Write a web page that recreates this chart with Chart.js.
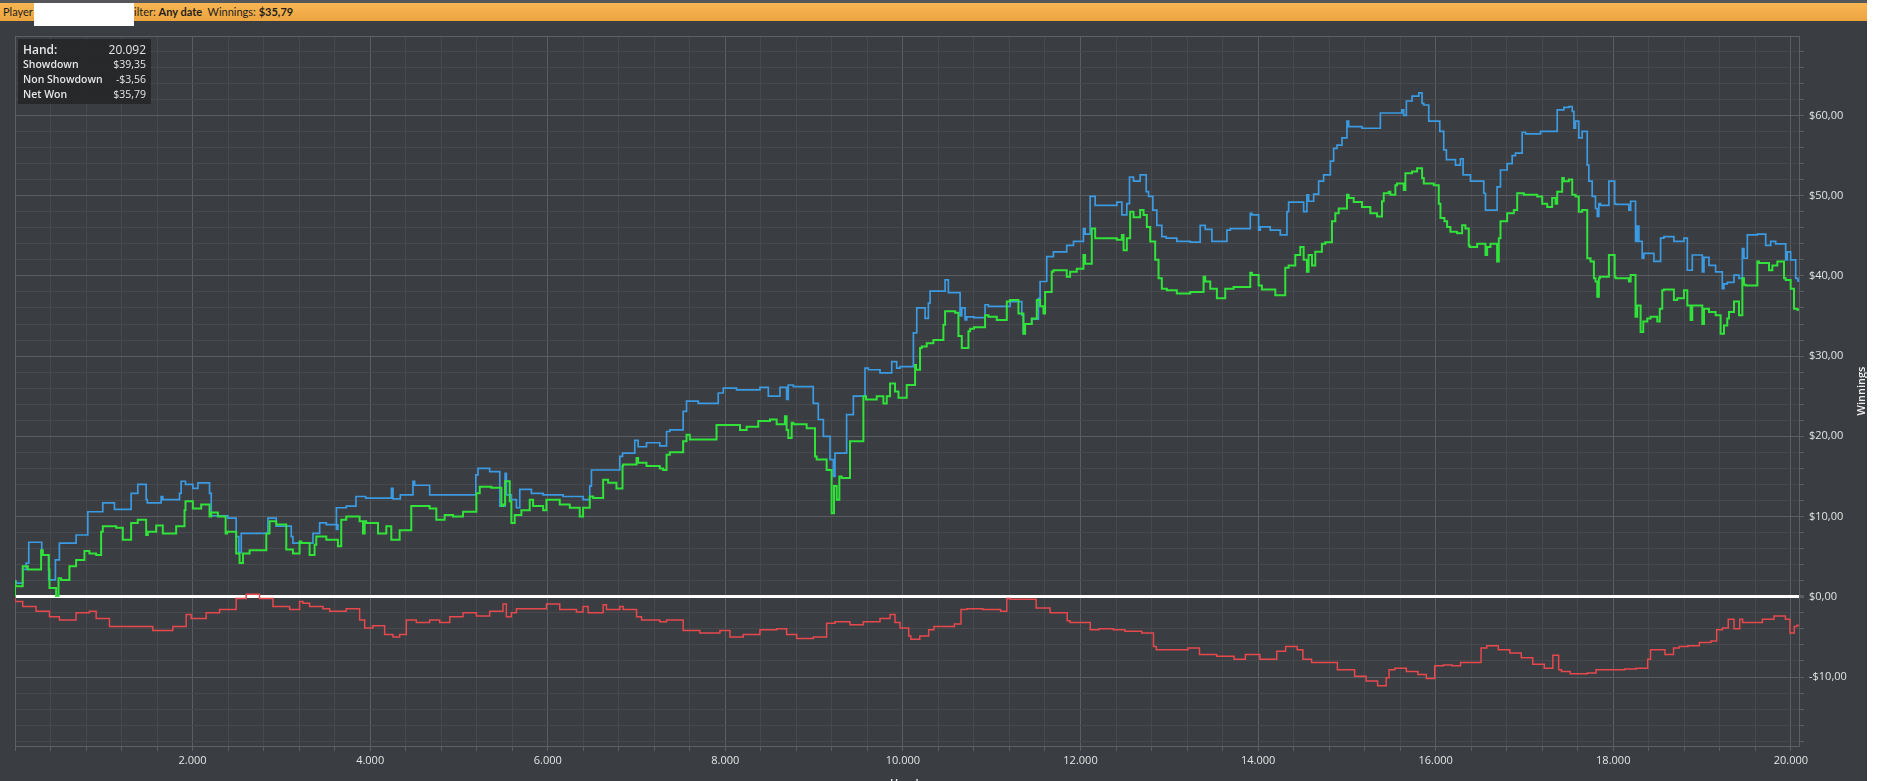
<!DOCTYPE html>
<html>
<head>
<meta charset="utf-8">
<title>Winnings</title>
<script src="https://cdn.jsdelivr.net/npm/chart.js@4.4.1/dist/chart.umd.min.js"></script>
<style>
  html, body { margin: 0; padding: 0; background: #ffffff; overflow: hidden; }
  #page { position: relative; width: 1867px; height: 781px; background: #3a3d41; font-family: "Open Sans", "Noto Sans", sans-serif; }
  #strip { position: absolute; left: 0; top: 0; width: 1867px; height: 3px; background: #55575a; }
  #bar { position: absolute; left: 0; top: 3px; width: 1867px; height: 18px; background: linear-gradient(#f7b653, #eca43f); color: #1e1e1e; font-family: Lato, "Open Sans", sans-serif; font-size: 11px; line-height: 18px; }
  #bar span { position: absolute; top: 0; white-space: nowrap; }
  #mask { position: absolute; left: 34px; top: 3px; width: 100px; height: 23px; background: #ffffff; }
  #stats { position: absolute; left: 18px; top: 39px; width: 133px; height: 65px; background: rgba(36, 37, 39, 0.88); color: #e6e6e6; font-size: 10.5px; z-index: 2; }
  #stats div { position: absolute; left: 5px; right: 5px; height: 15px; line-height: 15px; }
  #stats b { font-weight: 600; }
  #stats .v { position: absolute; right: 0; top: 0; }
  #chartBox { position: absolute; left: 0; top: 21px; width: 1867px; height: 760px; }
</style>
</head>
<body>
<div id="page">
  <div id="strip"></div>
  <div id="bar">
    <span style="left:3px">Player</span>
    <span style="left:134px">ilter: <b style="font-weight:700">Any date</b>&nbsp; Winnings: <b style="font-weight:700">$35,79</b></span>
  </div>
  <div id="mask"></div>
  <div id="stats">
    <div style="top:3px;font-size:12px"><b>Hand:</b><span class="v">20.092</span></div>
    <div style="top:18px"><b>Showdown</b><span class="v">$39,35</span></div>
    <div style="top:33px"><b>Non Showdown</b><span class="v">-$3,56</span></div>
    <div style="top:48px"><b>Net Won</b><span class="v">$35,79</span></div>
  </div>
  <div id="chartBox"><canvas id="winningsChart" width="1867" height="760"></canvas></div>
</div>
<script>
// Hands played (x) and cumulative winnings (y)
const showdownHands = [0, 10, 87, 125, 155, 301, 380, 455, 500, 688, 820, 989, 1120, 1308, 1383, 1477, 1490, 1646, 1665, 1853, 1871, 1920, 2003, 2060, 2191, 2210, 2398, 2491, 2521, 2548, 2848, 2942, 3111, 3130, 3356, 3431, 3506, 3637,
  3620, 3731, 3840, 3949, 4240, 4257, 4340, 4482, 4501, 4670, 4820, 5190, 5215, 5346, 5460, 5489, 5520, 5534, 5590, 5647, 5685, 5816, 5948, 6173, 6398, 6473, 6492, 6661, 6812, 6842, 6980, 7018, 7112, 7262,
  7338, 7375, 7525, 7563, 7695, 7920, 7977, 8127, 8390, 8484, 8615, 8690, 8709, 8766, 8990, 9047, 9104, 9179, 9216, 9235, 9291, 9366, 9442, 9573, 9611, 9742, 9874, 9930, 9968, 10118, 10156, 10250, 10287, 10306, 10475, 10512, 10644, 10663, 10700, 10719, 10800,
  10925, 10963, 11207, 11226, 11339, 11357, 11376, 11451, 11526, 11545, 11620, 11695, 11845, 11921, 12033, 12052, 12109, 12165, 12409, 12466, 12522, 12552, 12597, 12672, 12740, 12766, 12815, 12860, 12916, 12965, 13085, 13236, 13348, 13405, 13480, 13649, 13687, 13912, 13931, 14006, 14025, 14137, 14250, 14325, 14344, 14513, 14550, 14569, 14626, 14682, 14738, 14814, 14851, 14889, 14945, 15001, 15020, 15170, 15377, 15407,
  15620, 15640, 15670, 15734, 15810, 15847, 15866, 15922, 16046, 16091, 16121, 16223, 16279, 16309, 16392, 16542, 16561, 16692, 16730, 16805, 16862, 16899, 16974, 17012, 17181, 17369, 17444, 17500, 17538, 17557, 17575, 17612, 17650, 17707, 17725, 17763, 17800, 17820, 17838, 17857, 17951, 17970, 18016, 18026, 18176, 18196, 18251, 18270, 18289, 18326, 18345, 18458, 18533, 18571, 18683, 18796, 18834, 18890, 18946, 19003, 19022, 19078, 19153, 19228, 19247, 19284, 19360, 19416, 19454, 19472, 19510, 19623, 19717, 19773, 19829, 19942, 19961, 19998, 20055, 20081, 20092];
const showdownWon = [0, 2.0, 1.7, 3.4, 4.2, 6.8, 5.2, 2.1, 4.6, 6.7, 7.7, 10.6, 11.7, 10.9, 12.9, 14.0, 12.1, 11.7, 12.5, 12.1, 12.9, 14.4, 14.0, 13.5, 14.2, 12.9, 10.1, 9.8, 7.5, 5.5, 7.9, 9.8, 8.8, 7.5, 6.7, 7.9, 9.2, 9.0,
  8.4, 11.1, 11.3, 12.5, 12.3, 13.5, 12.2, 12.7, 14.4, 13.9, 12.7, 12.7, 15.2, 16.0, 15.6, 11.3, 11.3, 15.4, 12.7, 12.1, 11.1, 13.4, 12.9, 12.7, 12.5, 12.1, 13.8, 15.8, 15.8, 17.5, 17.9, 19.5, 18.7, 19.2,
  18.8, 20.6, 20.8, 23.1, 24.4, 24.1, 25.4, 26.0, 25.8, 26.1, 25.0, 26.1, 24.6, 26.4, 26.2, 24.1, 22.1, 20.0, 17.1, 15.0, 17.9, 17.9, 22.7, 25.0, 28.5, 28.3, 27.9, 29.3, 28.5, 28.7, 32.9, 36.0, 34.7, 36.6, 38.1, 39.5, 37.9, 35.0, 36.0, 34.5, 34.9,
  34.8, 36.4, 36.2, 36.8, 36.8, 35.1, 32.8, 34.0, 34.6, 37.2, 39.3, 42.4, 43.0, 43.8, 44.3, 45.9, 45.2, 49.9, 48.8, 49.2, 47.6, 49.0, 52.3, 51.8, 52.6, 50.5, 49.9, 48.2, 46.3, 44.9, 44.7, 44.3, 44.2, 46.3, 45.8, 44.3, 45.7, 45.9, 47.8, 47.6, 45.7, 46.1, 45.7, 45.1, 48.0, 49.2, 48.0, 50.1, 49.3, 50.2, 51.8, 52.6, 54.3, 55.9, 56.3, 57.2, 59.3, 58.6, 58.4, 60.3,
  60.3, 60.7, 60.0, 61.8, 62.4, 62.8, 61.5, 61.3, 59.3, 58.0, 55.7, 54.5, 53.8, 54.6, 52.6, 51.8, 50.3, 48.2, 51.1, 53.2, 54.0, 55.0, 55.3, 57.9, 57.7, 58.0, 60.7, 61.0, 61.1, 60.5, 58.4, 59.3, 57.2, 58.0, 53.8, 51.8, 49.9, 48.4, 47.4, 49.0, 48.8, 51.8, 51.8, 49.0, 48.9, 48.2, 49.3, 44.3, 46.2, 44.3, 42.2, 42.8, 41.8, 44.7, 44.9, 44.3, 44.7, 40.7, 42.6, 42.6, 40.5, 42.3, 41.3, 40.5, 38.4, 39.0, 39.2, 40.1, 39.7, 43.4, 42.2, 45.1, 45.2, 43.8, 44.3, 44.0, 42.0, 43.0, 42.0, 39.7, 39.35];

const netHands = [0, 5, 87, 144, 294, 313, 380, 388, 463, 490, 519, 613, 688, 782, 838, 914, 970, 989, 1139, 1214, 1308, 1383, 1477, 1496, 1590, 1665, 1815, 1909, 1920, 2003, 2097, 2191, 2210, 2285, 2372, 2387, 2491, 2529, 2567, 2642, 2830, 2867, 2942, 3055, 3130, 3205, 3224, 3318, 3374, 3393, 3506, 3637,
  3674, 3731, 3881, 3919, 3938, 3956, 4088, 4182, 4238, 4332, 4463, 4512, 4670, 4745, 4839, 4933, 5046, 5196, 5234, 5365, 5478, 5496, 5520, 5572, 5590, 5628, 5703, 5797, 5835, 5948, 5985, 6135, 6248, 6360, 6398, 6473, 6511, 6624, 6680, 6774, 6842, 6849, 7000, 7018, 7112, 7262,
  7300, 7338, 7375, 7525, 7563, 7600, 7901, 7977, 8165, 8240, 8371, 8503, 8578, 8671, 8690, 8709, 8747, 8766, 8916, 9010, 9029, 9141, 9197, 9224, 9254, 9284, 9310, 9404, 9423, 9555, 9584, 9705, 9780, 9818, 9855, 9911, 9950, 10043, 10081, 10137, 10148, 10193, 10212, 10268, 10343, 10456, 10475, 10588, 10625, 10663, 10738, 10757,
  10800, 10925, 10963, 11057, 11170, 11207, 11301, 11320, 11357, 11376, 11451, 11508, 11545, 11583, 11601, 11628, 11676, 11695, 11845, 11883, 11958, 12033, 12052, 12127, 12165, 12409, 12466, 12485, 12522, 12559, 12597, 12672, 12710, 12747, 12785, 12841, 12879, 12916, 12973, 13085, 13236, 13386, 13405, 13461, 13536, 13630, 13724, 13912, 13931, 14006, 14043, 14194, 14306, 14344, 14419, 14475, 14513, 14550, 14569, 14607, 14644, 14719, 14757, 14832, 14870, 14908, 15001, 15020, 15077, 15170, 15264, 15340, 15396, 15415, 15471,
  15490, 15546, 15565, 15640, 15659, 15734, 15791, 15847, 15866, 15978, 16035, 16054, 16099, 16129, 16166, 16241, 16298, 16335, 16373, 16384, 16467, 16561, 16580, 16617, 16692, 16711, 16730, 16805, 16880, 16918, 16993, 17143, 17200, 17256, 17312, 17350, 17369, 17425, 17444, 17500, 17538, 17575, 17612, 17650, 17707, 17744, 17782, 17800, 17820, 17838, 17850, 17951, 17970, 18016, 18026, 18176, 18196, 18251, 18270, 18308, 18338, 18383, 18420, 18496, 18524, 18552, 18571, 18683, 18721, 18796, 18834, 18871, 18890, 18946, 19003, 19022, 19078, 19153, 19209, 19247, 19284, 19303, 19360, 19416, 19454, 19472, 19491, 19623, 19641, 19754, 19792, 19848, 19923, 19942, 19998, 20036, 20073, 20092];
const netWon = [0, 1.9, 1.3, 3.8, 3.4, 5.8, 5.2, 3.4, 1.1, 0.1, 2.3, 2.1, 3.8, 4.6, 5.7, 5.4, 5.2, 8.1, 8.8, 8.6, 7.1, 9.2, 9.6, 7.7, 8.1, 8.9, 7.9, 8.8, 10.8, 11.9, 11.0, 11.5, 10.0, 10.5, 10.0, 7.9, 8.1, 5.4, 4.2, 5.4, 5.8, 7.9, 9.4, 9.0, 5.9, 5.4, 6.9, 6.7, 5.2, 6.5, 7.5, 7.1,
  6.3, 9.6, 10.0, 9.4, 7.9, 9.4, 9.2, 7.9, 8.8, 7.1, 8.3, 11.3, 11.3, 11.0, 9.6, 10.2, 10.0, 10.6, 12.9, 13.7, 13.6, 11.3, 11.5, 14.4, 11.9, 9.2, 10.2, 10.8, 12.1, 11.3, 10.8, 12.1, 11.5, 11.1, 10.0, 11.1, 12.5, 12.3, 14.6, 14.2, 13.5, 16.3, 16.5, 17.3, 16.7, 16.3,
  16.0, 15.8, 17.7, 18.0, 19.4, 20.2, 19.6, 21.4, 21.4, 20.8, 21.2, 21.9, 22.1, 21.5, 22.5, 20.8, 19.8, 21.7, 21.5, 21.0, 17.5, 17.1, 15.8, 10.4, 13.8, 12.1, 15.0, 14.8, 19.4, 19.4, 25.0, 24.6, 25.0, 24.1, 25.0, 26.6, 25.6, 24.8, 26.4, 26.4, 28.9, 28.3, 31.0, 31.2, 31.6, 32.0, 33.9, 35.6, 35.4, 32.5, 31.0, 33.1,
  33.4, 33.6, 35.1, 34.9, 34.5, 36.8, 37.0, 35.3, 35.3, 32.8, 34.0, 34.7, 37.0, 36.2, 35.3, 38.0, 38.0, 40.5, 40.7, 39.9, 40.5, 40.9, 42.6, 41.5, 45.9, 44.7, 44.5, 45.1, 43.2, 44.7, 48.0, 47.3, 48.2, 47.6, 46.1, 44.3, 42.0, 39.7, 38.4, 38.2, 37.8, 38.0, 39.9, 39.3, 38.4, 37.2, 38.4, 38.6, 40.4, 40.1, 38.8, 38.3, 37.6, 41.0, 41.3, 42.6, 43.6, 42.0, 40.5, 42.6, 41.3, 43.0, 44.0, 44.2, 46.8, 47.8, 48.4, 50.1, 49.7, 49.2, 48.6, 47.8, 47.4, 49.3, 50.3,
  50.5, 50.1, 51.3, 51.5, 50.7, 52.8, 53.0, 53.4, 52.2, 51.5, 51.3, 49.0, 47.2, 46.8, 46.1, 45.5, 45.3, 46.3, 45.9, 43.8, 43.6, 44.0, 42.6, 43.6, 44.0, 41.8, 44.7, 46.8, 47.8, 48.2, 50.3, 50.1, 49.9, 49.0, 48.6, 49.7, 49.0, 50.5, 52.2, 51.8, 52.0, 50.1, 49.9, 48.0, 48.2, 42.2, 41.8, 39.7, 39.3, 37.4, 39.7, 39.9, 42.6, 42.6, 39.9, 39.7, 39.3, 40.1, 34.9, 36.3, 33.0, 34.3, 34.7, 34.9, 34.3, 35.9, 38.2, 38.3, 37.0, 37.2, 38.2, 36.3, 34.5, 36.3, 36.3, 34.0, 35.9, 35.5, 35.1, 32.8, 33.8, 34.7, 35.5, 36.8, 35.1, 39.7, 38.9, 38.8, 41.8, 41.6, 40.7, 41.3, 41.8, 39.7, 39.5, 38.4, 35.9, 35.79];

const nonShowdownHands = [0, 87, 237, 388, 500, 688, 838, 914, 1064, 1289, 1552, 1778, 1928, 1984, 2153, 2304, 2491, 2604, 2754, 2905, 3093, 3205, 3243, 3318, 3469, 3544, 3637,
  3730, 3881, 3938, 4030, 4163, 4257, 4332, 4407, 4520, 4670, 4783, 4896, 5046, 5196, 5346, 5496, 5534, 5590, 5647, 5797, 5985, 6135, 6323, 6398, 6455, 6624, 6661, 6812, 6849, 7000, 7056, 7262,
  7338, 7525, 7713, 7939, 8052, 8202, 8390, 8578, 8690, 8803, 8991, 9141, 9235, 9404, 9555, 9742, 9855, 9911, 9968,
  10065, 10090, 10190, 10290, 10350, 10580, 10654, 10720, 10900, 11100, 11170, 11204, 11500, 11657, 11755, 11850, 11883, 12110, 12207, 12370, 12500, 12690, 12822, 12854, 12950, 13210, 13340, 13534, 13730, 13857, 14020, 14210, 14310, 14440, 14505, 14602, 14893, 15087, 15217, 15346, 15443, 15475, 15540, 15670, 15800, 15895, 15990, 16087, 16185, 16280, 16511, 16576, 16705, 16835, 16964, 17094, 17223, 17320, 17385, 17417, 17515, 17709, 17806, 17935, 18130, 18258, 18388, 18420, 18582, 18679, 18744, 18841, 18970, 19100, 19165, 19230, 19295, 19360, 19425, 19457, 19680, 19810, 19939, 19990, 20038, 20070, 20092];
const nonShowdownWon = [0, -0.6, -1.2, -1.8, -2.5, -2.9, -2.0, -1.8, -2.7, -3.7, -3.7, -4.2, -3.7, -2.2, -2.7, -2.0, -1.6, -0.2, 0.3, -0.2, -1.2, -1.6, -0.6, -0.8, -1.2, -1.5, -1.8,
  -1.8, -1.5, -2.9, -3.9, -3.6, -4.7, -5.0, -4.7, -2.9, -3.2, -2.9, -3.2, -2.5, -2.0, -2.4, -1.8, -0.9, -2.5, -2.0, -1.5, -1.5, -0.9, -1.6, -1.9, -1.2, -2.0, -1.0, -1.6, -1.2, -1.6, -2.5, -2.9,
  -3.1, -2.9, -4.2, -4.5, -4.2, -5.0, -4.7, -4.1, -4.0, -4.7, -5.2, -5.0, -3.3, -3.1, -3.5, -3.1, -2.7, -2.2, -3.2,
  -3.9, -4.9, -5.3, -4.9, -4.1, -3.7, -3.4, -1.6, -1.5, -1.6, -1.8, -0.2, -0.3, -1.4, -2.0, -2.0, -3.0, -3.2, -4.1, -4.0, -4.1, -4.3, -4.5, -6.2, -6.6, -6.6, -6.4, -7.2, -7.4, -7.8, -7.2, -7.8, -6.8, -6.2, -6.6, -7.8, -8.2, -9.1, -9.9, -10.5, -11.1, -10.1, -9.1, -8.9, -9.3, -9.7, -10.2, -8.6, -8.5, -8.6, -8.2, -6.4, -6.1, -6.6, -7.0, -7.6, -8.4, -8.9, -7.3, -9.1, -9.3, -9.6, -9.5, -9.1, -9.1, -9.0, -8.9, -7.8, -6.6, -7.2, -6.4, -6.2, -6.1, -5.7, -5.5, -4.1, -3.9, -2.8, -4.0, -2.8, -3.2, -2.8, -2.4, -2.8, -4.5, -3.7, -3.56];

const totalHands = 20092;
const handStep = 400;     // minor grid every 400 hands, label every 2.000
const yMin = -18.6;
const yMax = 69.9;

function toPoints(xs, ys) {
  return xs.map(function (x, i) { return { x: x, y: ys[i] }; });
}

function money(v) {
  const s = '$' + Math.abs(v).toFixed(2).replace('.', ',');
  return v < 0 ? '-' + s : s;
}

// frame round the plot and the two axis titles
const framePlugin = {
  id: 'frame',
  beforeDatasetsDraw(chart) {
    const a = chart.chartArea;
    const ctx = chart.ctx;
    ctx.save();
    ctx.strokeStyle = '#5d6064';
    ctx.lineWidth = 1;
    ctx.strokeRect(a.left + 0.5, a.top + 0.5, a.right - a.left, a.bottom - a.top);
    ctx.restore();
  },
  afterDraw(chart) {
    const a = chart.chartArea;
    const ctx = chart.ctx;
    ctx.save();
    ctx.fillStyle = '#f0f0f0';
    ctx.font = '600 11px "Open Sans", "Noto Sans", sans-serif';
    ctx.textAlign = 'center';
    ctx.textBaseline = 'middle';
    ctx.translate(1862, (a.top + a.bottom) / 2);
    ctx.rotate(-Math.PI / 2);
    ctx.fillText('Winnings', 0, 0);
    ctx.restore();
    ctx.save();
    ctx.fillStyle = '#f0f0f0';
    ctx.font = '600 11px "Open Sans", "Noto Sans", sans-serif';
    ctx.textAlign = 'center';
    ctx.textBaseline = 'top';
    ctx.fillText('Hands', (a.left + a.right) / 2, a.bottom + 32);
    ctx.restore();
  }
};

document.addEventListener('DOMContentLoaded', function () {
  const ctx = document.getElementById('winningsChart').getContext('2d');

  new Chart(ctx, {
    type: 'line',
    data: {
      datasets: [{
        label: 'Net Won',
        data: toPoints(netHands, netWon),
        borderColor: '#31e23b',
        borderWidth: 2,
        stepped: 'after',
        order: 0
      }, {
        label: 'Showdown',
        data: toPoints(showdownHands, showdownWon),
        borderColor: '#3b9ae1',
        borderWidth: 1.7,
        stepped: 'after',
        order: 1
      }, {
        label: 'Non Showdown',
        data: toPoints(nonShowdownHands, nonShowdownWon),
        borderColor: '#e5484d',
        borderWidth: 1.5,
        stepped: 'after',
        order: 2
      }]
    },
    options: {
      responsive: false,
      animation: false,
      devicePixelRatio: 1,
      elements: {
        point: { radius: 0, hoverRadius: 0 },
        line: { tension: 0, fill: false }
      },
      layout: { padding: { left: 15, top: 15, right: 0, bottom: 0 } },
      plugins: {
        legend: { display: false },
        tooltip: { enabled: false }
      },
      scales: {
        x: {
          type: 'linear',
          position: 'bottom',
          min: 0,
          max: totalHands,
          // the built-in generator stretches the step to fit 20092 exactly, so lay the ticks on whole 400s
          afterBuildTicks: function (scale) {
            const ticks = [];
            for (let v = 0; v <= totalHands; v += handStep) ticks.push({ value: v });
            scale.ticks = ticks;
          },
          afterFit: function (scale) { scale.height = 35; },
          border: { display: false },
          grid: {
            color: function (c) { return c.tick && c.tick.value % 2000 === 0 ? '#5a5d61' : '#47494d'; },
            tickColor: '#5a5d61',
            tickLength: 5
          },
          ticks: {
            autoSkip: false,
            maxRotation: 0,
            padding: 3,
            color: '#e4e4e4',
            font: { family: '"Open Sans", "Noto Sans", sans-serif', size: 11 },
            callback: function (v) {
              if (v === 0 || v % 2000 !== 0) return '';
              return (v / 1000).toFixed(3);
            }
          }
        },
        y: {
          type: 'linear',
          position: 'right',
          min: yMin,
          max: yMax,
          afterFit: function (scale) { scale.width = 68; },
          border: { display: false },
          grid: {
            color: function (c) {
              if (!c.tick) return '#47494d';
              if (c.tick.value === 0) return '#ffffff';
              return c.tick.value % 10 === 0 ? '#5a5d61' : '#47494d';
            },
            lineWidth: function (c) { return c.tick && c.tick.value === 0 ? 3 : 1; },
            tickColor: '#5a5d61',
            tickLength: 5
          },
          ticks: {
            stepSize: 2,
            includeBounds: false,
            autoSkip: false,
            padding: 5,
            color: '#e4e4e4',
            font: { family: '"Open Sans", "Noto Sans", sans-serif', size: 11 },
            callback: function (v) {
              return v % 10 === 0 ? money(v) : '';
            }
          }
        }
      }
    },
    plugins: [framePlugin]
  });
});
</script>
</body>
</html>
